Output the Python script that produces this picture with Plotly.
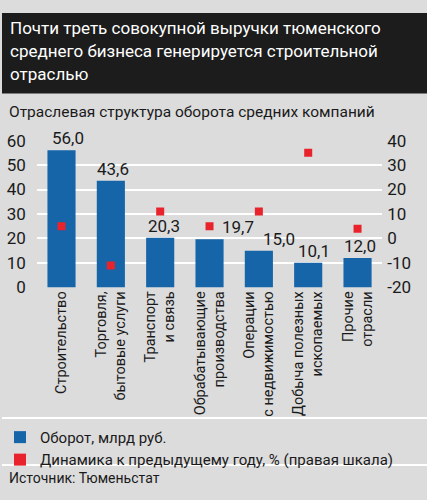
import plotly.graph_objects as go

W, H = 427, 500

# data
sectors = [
    "Строительство",
    "Торговля,<br>бытовые услуги",
    "Транспорт<br>и связь",
    "Обрабатывающие<br>производства",
    "Операции<br>с недвижимостью",
    "Добыча полезных<br>ископаемых",
    "Прочие<br>отрасли",
]
turnover = [56.0, 43.6, 20.3, 19.7, 15.0, 10.1, 12.0]  # млрд руб.
growth = [5, -11, 11, 5, 11, 35, 4]  # % к предыдущему году, правая шкала
turnover_labels = ["56,0", "43,6", "20,3", "19,7", "15,0", "10,1", "12,0"]
left_ticks = [0, 10, 20, 30, 40, 50, 60]
right_ticks = [-20, -10, 0, 10, 20, 30, 40]
right_tick_text = ["-20", "-10", "0", "10", "20", "30", "40"]

title_lines = [
    "Почти треть совокупной выручки тюменского",
    "среднего бизнеса генерируется строительной",
    "отраслью",
]
subtitle = "Отраслевая структура оборота средних компаний"
source = "Источник: Тюменьстат"

FONT = "Roboto, Liberation Sans Narrow, sans-serif"
BG = "#dcdcdc"
BLUE = "#1565a8"
RED = "#e8232b"
TXT = "#1a1a1a"

# label nudges (px) to the right of the bar centre, as in the print
label_dx = [6, 2, 4, 28, 20, 6, 2]


def py(px):
    return 1 - px / H


fig = go.Figure()
fig.add_trace(
    go.Bar(
        x=sectors,
        y=turnover,
        name="Оборот, млрд руб.",
        marker=dict(color=BLUE, line=dict(width=0)),
    )
)
fig.add_trace(
    go.Scatter(
        x=sectors,
        y=growth,
        yaxis="y2",
        mode="markers",
        name="Динамика к предыдущему году, % (правая шкала)",
        marker=dict(symbol="square", size=8, color=RED, line=dict(width=0)),
    )
)

for s, v, t, dx in zip(sectors, turnover, turnover_labels, label_dx):
    fig.add_annotation(
        x=s, y=v, text=t, showarrow=False, yanchor="bottom",
        xshift=dx, yshift=0, font=dict(size=17, color=TXT, family=FONT),
    )

# title lines, each centred on its own row
for i, line in enumerate(title_lines):
    fig.add_annotation(
        xref="paper", yref="paper", x=6 / W, y=py(19 + i * 24),
        xanchor="left", yanchor="middle", showarrow=False, text=line,
        font=dict(size=17, color="white", family=FONT),
    )
fig.add_annotation(
    xref="paper", yref="paper", x=5 / W, y=py(106),
    xanchor="left", yanchor="middle", showarrow=False, text=subtitle,
    font=dict(size=15.5, color=TXT, family=FONT),
)
fig.add_annotation(
    xref="paper", yref="paper", x=5 / W, y=py(487),
    xanchor="left", yanchor="middle", showarrow=False, text=source,
    font=dict(size=14, color=TXT, family=FONT),
)

fig.update_layout(
    width=W,
    height=H,
    margin=dict(l=0, r=0, t=0, b=0),
    paper_bgcolor=BG,
    plot_bgcolor=BG,
    font=dict(family=FONT, size=16, color=TXT),
    bargap=0.43,
    showlegend=True,
    legend=dict(
        x=-0.005, y=py(428), xanchor="left", yanchor="top",
        bgcolor="rgba(0,0,0,0)", itemsizing="constant",
        font=dict(size=15, color=TXT, family=FONT),
        tracegroupgap=0, itemwidth=30,
    ),
    xaxis=dict(
        domain=[35 / W, 382 / W],
        tickangle=-90,
        showgrid=False,
        showline=False,
        ticks="",
        tickfont=dict(size=14.5),
    ),
    yaxis=dict(
        domain=[py(289), py(136)],
        range=[0, 60],
        tickvals=left_ticks,
        showgrid=True,
        gridcolor="white",
        gridwidth=2,
        zeroline=False,
        showline=False,
        ticks="",
        ticklabelstandoff=10,
        tickfont=dict(size=17),
    ),
    yaxis2=dict(
        overlaying="y",
        side="right",
        range=[-20, 40],
        tickvals=right_ticks,
        ticktext=right_tick_text,
        showgrid=False,
        zeroline=False,
        showline=False,
        ticks="",
        ticklabelstandoff=4,
        tickfont=dict(size=17),
    ),
    shapes=[
        dict(type="rect", xref="paper", yref="paper", x0=0, x1=1,
             y0=py(87), y1=py(3), fillcolor="#1c1c1c", line=dict(width=0),
             layer="below"),
        dict(type="line", xref="paper", yref="paper", x0=0, x1=1,
             y0=py(425), y1=py(425), line=dict(color="white", width=2)),
        dict(type="line", xref="paper", yref="paper", x0=0, x1=1,
             y0=py(474), y1=py(474), line=dict(color="white", width=2)),
    ],
)

page_css = (
    "document.documentElement.style.margin='0';"
    "document.body.style.margin='0';"
    "document.body.style.padding='0';"
    "document.body.style.overflow='hidden';"
)
fig.write_html(
    "out.html",
    config={"displayModeBar": False},
    post_script=page_css,
)
